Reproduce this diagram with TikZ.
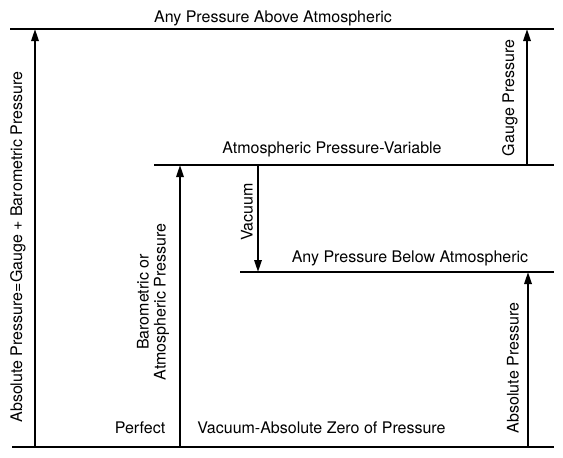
\documentclass[tikz,border=0pt]{standalone}
\usepackage{fontspec}
\setmainfont{TeX Gyre Heros}
\usetikzlibrary{arrows.meta}

\begin{document}
\begin{tikzpicture}[x=0.75pt,y=-0.75pt,
    level/.style={line width=1.9pt},
    rise/.style={line width=1.6pt,-{Triangle[length=9pt,width=5.5pt]}},
    every node/.style={font=\fontsize{12}{12.8}\selectfont,inner sep=0pt}]

    \useasboundingbox (0,0) rectangle (563,457);

    % Define the ends of the four pressure levels
    \coordinate (T1) at (10,29);  \coordinate (T2) at (554,29);
    \coordinate (M1) at (154,165); \coordinate (M2) at (554,165);
    \coordinate (L1) at (240,272); \coordinate (L2) at (554,272);
    \coordinate (Z1) at (12,447);  \coordinate (Z2) at (554,447);

    % Draw the levels
    \draw[level] (T1) -- (T2);
    \draw[level] (M1) -- (M2);
    \draw[level] (L1) -- (L2);
    \draw[level] (Z1) -- (Z2);

    % Define the feet and heads of the arrows on the levels
    \coordinate (A0) at (35,447);  \coordinate (A1) at (35,29);
    \coordinate (B0) at (180,447); \coordinate (B1) at (180,165);
    \coordinate (V0) at (258,165); \coordinate (V1) at (258,272);
    \coordinate (G0) at (527,165); \coordinate (G1) at (527,29);
    \coordinate (P0) at (528,447); \coordinate (P1) at (528,272);

    % Draw the arrows between the levels
    \draw[rise] (A0) -- (A1);
    \draw[rise] (B0) -- (B1);
    \draw[rise] (V0) -- (V1);
    \draw[rise] (G0) -- (G1);
    \draw[rise] (P0) -- (P1);

    % Add labels for the levels
    \node[anchor=base] (above) at (273,22) {Any Pressure Above Atmospheric};
    \node[anchor=base] (atmos) at (332,153) {Atmospheric Pressure-Variable};
    \node[anchor=base] (below) at (410,262) {Any Pressure Below Atmospheric};
    \node[anchor=base] (perfect) at (140,433) {Perfect};
    \node[anchor=base west] (zero) at (197,433) {Vacuum-Absolute Zero of Pressure};

    % Add labels for the arrows
    \node[rotate=90] (absgauge) at (18,247) {Absolute Pressure=Gauge + Barometric Pressure};
    \node[rotate=90,align=center] (baro) at (153,302) {Barometric or\\Atmospheric Pressure};
    \node[rotate=90] (vac) at (247,212) {Vacuum};
    \node[rotate=90] (gauge) at (510,98) {Gauge Pressure};
    \node[rotate=90] (abs) at (513,368) {Absolute Pressure};

\end{tikzpicture}
\end{document}
